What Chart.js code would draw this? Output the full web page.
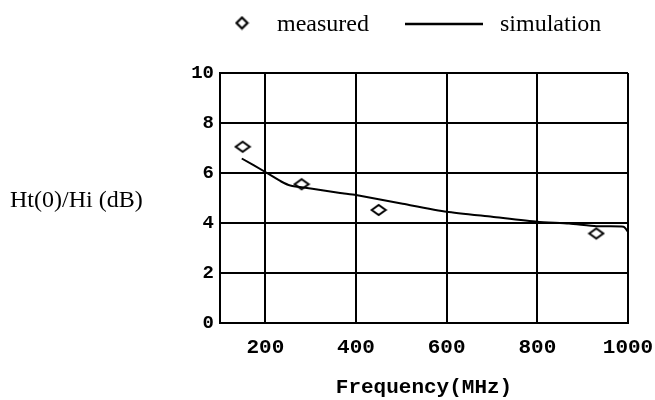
<!DOCTYPE html>
<html>
<head>
<meta charset="utf-8">
<script src="https://cdn.jsdelivr.net/npm/chart.js@4/dist/chart.umd.min.js"></script>
<style>
  html, body { margin: 0; padding: 0; background: #fff; }
  #wrap { width: 655px; height: 400px; }
</style>
</head>
<body>
<div id="wrap"><canvas id="chart"></canvas></div>
<script>
// measured points
const measFreq = [150, 280, 450, 930]
const measGain = [7.05, 5.55, 4.52, 3.58]

// simulation curve
const simFreq = [148, 200, 235, 255, 300, 365, 400, 500, 600, 700, 800, 870, 930, 990, 1000]
const simGain = [6.58, 6.04, 5.66, 5.5, 5.38, 5.2, 5.12, 4.78, 4.45, 4.25, 4.05, 3.98, 3.87, 3.85, 3.65]

const xTicks = [200, 400, 600, 800, 1000]
const yTicks = [0, 2, 4, 6, 8, 10]

const legendLabels = ["measured", "simulation"]
const yTitle = "Ht(0)/Hi (dB)"
const xTitle = "Frequency(MHz)"

const serif = "'Liberation Serif', 'Times New Roman', serif"
const mono = "'Liberation Mono', 'Courier New', monospace"

// flattened hollow diamond like the scanned marker
function diamond(w, h, lw) {
    const c = document.createElement("canvas")
    c.width = w + 4
    c.height = h + 4
    const g = c.getContext("2d")
    g.strokeStyle = "#000"
    g.lineWidth = lw
    g.beginPath()
    g.moveTo(2, 2 + h / 2)
    g.lineTo(2 + w / 2, 2)
    g.lineTo(2 + w, 2 + h / 2)
    g.lineTo(2 + w / 2, 2 + h)
    g.closePath()
    g.stroke()
    return c
}

const extras = {
    id: "extras",
    afterDraw(chart) {
        const c = chart.ctx
        c.save()
        c.fillStyle = "#000"
        c.strokeStyle = "#000"
        c.font = "24px " + serif
        c.textBaseline = "alphabetic"
        c.textAlign = "left"
        // legend
        const d = diamond(11, 11, 2.2)
        c.drawImage(d, 242 - d.width / 2, 23 - d.height / 2)
        c.fillText(legendLabels[0], 277, 31)
        c.lineWidth = 2.5
        c.beginPath()
        c.moveTo(405, 24)
        c.lineTo(483, 24)
        c.stroke()
        c.fillText(legendLabels[1], 500, 31)
        // y title, horizontal
        c.fillText(yTitle, 10, 207)
        c.restore()
    }
}

const ctx = document.querySelector("#chart")

new Chart(ctx, {
    type: "scatter",
    data: {
        datasets: [{
            label: legendLabels[0],
            data: measFreq.map((f, i) => ({x: f, y: measGain[i]})),
            pointStyle: diamond(14, 10, 2),
            borderColor: "#000",
            backgroundColor: "#000",
            showLine: false,
        }, {
            label: legendLabels[1],
            data: simFreq.map((f, i) => ({x: f, y: simGain[i]})),
            showLine: true,
            borderColor: "#000",
            borderWidth: 2,
            pointRadius: 0,
            tension: 0.2,
        }]
    },
    options: {
        responsive: true,
        maintainAspectRatio: false,
        animation: false,
        layout: {
            padding: {left: 180, right: 27, top: 73, bottom: 0}
        },
        scales: {
            x: {
                type: "linear",
                min: 100,
                max: 1000,
                afterBuildTicks: (s) => { s.ticks = xTicks.map(v => ({value: v})) },
                afterFit: (s) => {
                    s.height = 77
                    s.paddingLeft = 0
                    s.paddingRight = 0
                },
                grid: {color: "#000", lineWidth: 2, drawTicks: false},
                border: {color: "#000", width: 2},
                ticks: {
                    color: "#000",
                    padding: 12,
                    maxRotation: 0,
                    callback: (v) => String(v),
                    font: {family: mono, size: 21, weight: "bold"},
                },
                title: {
                    display: true,
                    text: xTitle,
                    color: "#000",
                    padding: 0,
                    font: {family: mono, size: 21, weight: "bold"},
                }
            },
            y: {
                min: 0,
                max: 10,
                afterBuildTicks: (s) => { s.ticks = yTicks.map(v => ({value: v})) },
                afterFit: (s) => {
                    s.width = 40
                    s.paddingTop = 0
                    s.paddingBottom = 0
                },
                grid: {color: "#000", lineWidth: 2, drawTicks: false},
                border: {color: "#000", width: 2},
                ticks: {
                    color: "#000",
                    padding: 6,
                    font: {family: mono, size: 19, weight: "bold"},
                }
            }
        },
        plugins: {
            legend: {display: false},
            tooltip: {enabled: false}
        }
    },
    plugins: [extras]
})
</script>
</body>
</html>
